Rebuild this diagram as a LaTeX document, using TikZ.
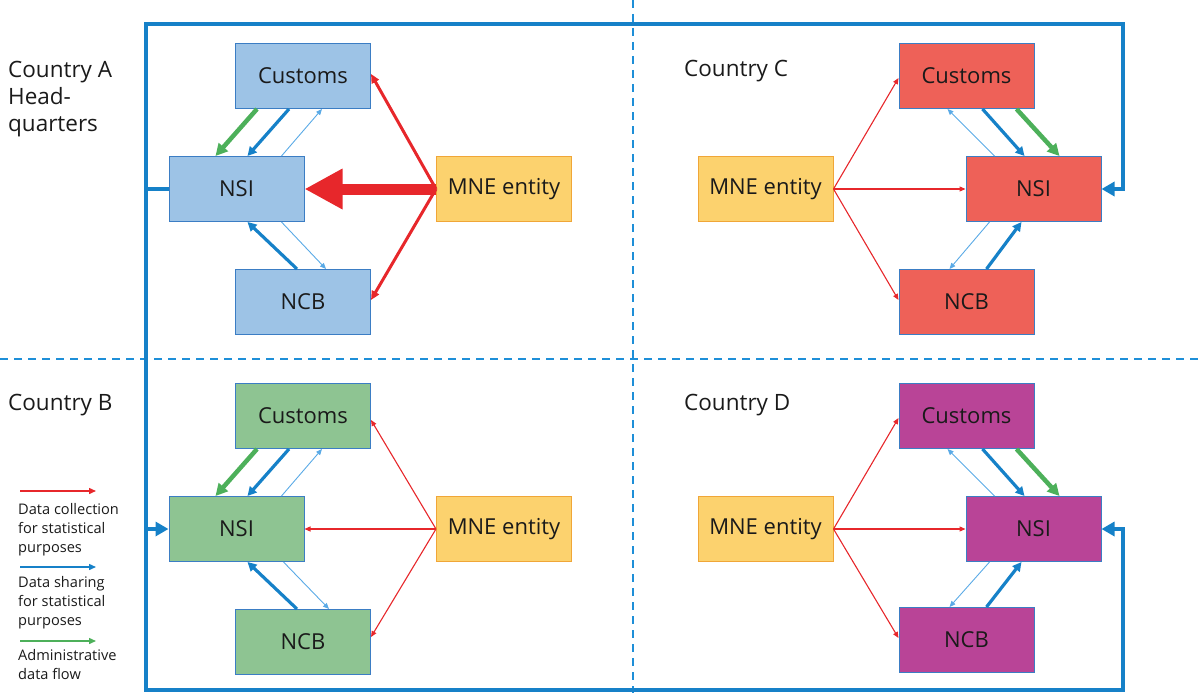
\documentclass[tikz,border=0pt]{standalone}
\usepackage{fontspec}
\setmainfont{Open Sans}
\usetikzlibrary{arrows.meta}

\definecolor{frameblue}{HTML}{1681C8}
\definecolor{dashblue}{HTML}{1E8FD8}
\definecolor{thinblue}{HTML}{5AAAE6}
\definecolor{boxline}{HTML}{3B7DC4}
\definecolor{fillA}{HTML}{9DC3E6}
\definecolor{fillB}{HTML}{8EC492}
\definecolor{fillC}{HTML}{EE6158}
\definecolor{fillD}{HTML}{B94497}
\definecolor{mnefill}{HTML}{FCD26E}
\definecolor{mneline}{HTML}{F0A638}
\definecolor{flowred}{HTML}{E7272B}
\definecolor{flowgreen}{HTML}{4DB05A}
\definecolor{ink}{HTML}{1A1A1A}

\tikzset{
  box/.style={draw=boxline, line width=1pt, minimum width=135pt, minimum height=65pt,
    inner sep=0pt, text=ink, font=\fontsize{22}{26}\selectfont},
  mnebox/.style={box, draw=mneline, fill=mnefill},
  label/.style={anchor=base west, inner sep=0pt, text=ink, align=left,
    font=\fontsize{22.5}{27}\selectfont},
  legendtext/.style={anchor=base west, inner sep=0pt, text=ink, align=left,
    font=\fontsize{14.6}{19}\selectfont},
  frame/.style={draw=frameblue, line width=4pt},
  framehead/.style={-{Triangle[length=13pt,width=14pt]}},
  divider/.style={draw=dashblue, line width=2pt, dash pattern=on 8pt off 6pt},
  share/.style={draw=frameblue, line width=3.2pt, -{Triangle[length=9pt,width=9pt]}},
  sharethin/.style={draw=thinblue, line width=0.9pt, -{Triangle[length=6pt,width=5pt]}, color=thinblue},
  admin/.style={draw=flowgreen, line width=4.5pt, -{Triangle[length=12pt,width=12pt]}},
  collect/.style={draw=flowred, line width=3pt, -{Triangle[length=9pt,width=8pt]}},
  collectthin/.style={draw=flowred, line width=1.1pt, -{Triangle[length=6pt,width=5pt]}},
  collectbig/.style={draw=flowred, line width=11pt, -{Triangle[length=38pt,width=38pt]}},
}

\begin{document}
\begin{tikzpicture}[x=1pt, y=-1pt]
\useasboundingbox (0,0) rectangle (1199,693);

% quadrant dividers
\coordinate (dvt) at (633,0);
\coordinate (dvb) at (633,693);
\coordinate (dhl) at (0,359);
\coordinate (dhr) at (1199,359);
\draw[divider] (dvt) -- (dvb);
\draw[divider] (dhl) -- (dhr);

% country labels (base anchor sits on the last line)
\node[label] (labA) at (8,131) {Country A\\Head-\\quarters};
\node[label] (labB) at (8,410) {Country B};
\node[label] (labC) at (684,77) {Country C};
\node[label] (labD) at (684,410) {Country D};

% Country A
\node[box, fill=fillA] (cusA) at (303,76) {Customs};
\node[box, fill=fillA] (nsiA) at (236.5,189) {NSI};
\node[box, fill=fillA] (ncbA) at (303,302) {NCB};
\node[mnebox] (mneA) at (504,189) {MNE entity};

% Country B
\node[box, fill=fillB] (cusB) at (303,416) {Customs};
\node[box, fill=fillB] (nsiB) at (236.5,529) {NSI};
\node[box, fill=fillB] (ncbB) at (303,642) {NCB};
\node[mnebox] (mneB) at (504,529) {MNE entity};

% Country C
\node[box, fill=fillC] (cusC) at (966.5,76) {Customs};
\node[box, fill=fillC] (nsiC) at (1033.5,189) {NSI};
\node[box, fill=fillC] (ncbC) at (966.5,302) {NCB};
\node[mnebox] (mneC) at (765.5,189) {MNE entity};

% Country D
\node[box, fill=fillD] (cusD) at (966.5,416) {Customs};
\node[box, fill=fillD] (nsiD) at (1033.5,529) {NSI};
\node[box, fill=fillD] (ncbD) at (966.5,640) {NCB};
\node[mnebox] (mneD) at (765.5,529) {MNE entity};

% headquarters frame linking the NSIs
\coordinate (jA) at (146,189);
\coordinate (jB) at (146,529);
\coordinate (cTR) at (1123,24);
\coordinate (cBR) at (1123,690);
\draw[frame, framehead] (nsiA.west) -- (jA) |- (cTR) |- (nsiC.east);
\draw[frame, framehead] (jA) |- (cBR) |- (nsiD.east);
\draw[frame, framehead] (jB) -- (nsiB.west);

% flows inside Country A
\draw[admin] ([xshift=22pt]cusA.south west) -- ([xshift=47pt]nsiA.north west);
\draw[share] ([xshift=54pt]cusA.south west) -- ([xshift=79pt]nsiA.north west);
\draw[sharethin] ([xshift=113pt]nsiA.north west) -- ([xshift=87pt]cusA.south west);
\draw[share] ([xshift=62pt]ncbA.north west) -- ([xshift=79pt]nsiA.south west);
\draw[sharethin] ([xshift=113pt]nsiA.south west) -- ([xshift=91pt]ncbA.north west);
\draw[collect] (mneA.west) -- ([yshift=2pt]cusA.east);
\draw[collect] (mneA.west) -- ([yshift=2pt]ncbA.east);
\draw[collectbig] (mneA.west) -- (nsiA.east);

% flows inside Country B
\draw[admin] ([xshift=22pt]cusB.south west) -- ([xshift=47pt]nsiB.north west);
\draw[share] ([xshift=54pt]cusB.south west) -- ([xshift=79pt]nsiB.north west);
\draw[sharethin] ([xshift=113pt]nsiB.north west) -- ([xshift=87pt]cusB.south west);
\draw[share] ([xshift=62pt]ncbB.north west) -- ([xshift=79pt]nsiB.south west);
\draw[sharethin] ([xshift=115pt]nsiB.south west) -- ([xshift=94pt]ncbB.north west);
\draw[collectthin] (mneB.west) -- ([yshift=-4pt]cusB.east);
\draw[collectthin] (mneB.west) -- (nsiB.east);
\draw[collectthin] (mneB.west) -- ([yshift=5pt]ncbB.east);

% flows inside Country C
\draw[sharethin] ([xshift=29pt]nsiC.north west) -- ([xshift=49pt]cusC.south west);
\draw[share] ([xshift=84pt]cusC.south west) -- ([xshift=59pt]nsiC.north west);
\draw[admin] ([xshift=118pt]cusC.south west) -- ([xshift=94pt]nsiC.north west);
\draw[sharethin] ([xshift=24pt]nsiC.south west) -- ([xshift=51pt]ncbC.north west);
\draw[share] ([xshift=88pt]ncbC.north west) -- ([xshift=56pt]nsiC.south west);
\draw[collectthin] (mneC.east) -- ([yshift=-2pt]cusC.west);
\draw[collectthin] (mneC.east) -- (nsiC.west);
\draw[collectthin] (mneC.east) -- ([yshift=2pt]ncbC.west);

% flows inside Country D
\draw[sharethin] ([xshift=29pt]nsiD.north west) -- ([xshift=49pt]cusD.south west);
\draw[share] ([xshift=84pt]cusD.south west) -- ([xshift=59pt]nsiD.north west);
\draw[admin] ([xshift=118pt]cusD.south west) -- ([xshift=94pt]nsiD.north west);
\draw[sharethin] ([xshift=24pt]nsiD.south west) -- ([xshift=51pt]ncbD.north west);
\draw[share] ([xshift=88pt]ncbD.north west) -- ([xshift=56pt]nsiD.south west);
\draw[collectthin] (mneD.east) -- ([yshift=-2pt]cusD.west);
\draw[collectthin] (mneD.east) -- (nsiD.west);
\draw[collectthin] (mneD.east) -- ([yshift=2pt]ncbD.west);

% legend
\coordinate (lgr1) at (20,491);
\coordinate (lgr2) at (96,491);
\coordinate (lgb1) at (20,567);
\coordinate (lgb2) at (96,567);
\coordinate (lgg1) at (20,641);
\coordinate (lgg2) at (96,641);
\draw[draw=flowred, line width=1.4pt, -{Triangle[length=7pt,width=6pt]}] (lgr1) -- (lgr2);
\draw[draw=frameblue, line width=1.4pt, -{Triangle[length=7pt,width=6pt]}] (lgb1) -- (lgb2);
\draw[draw=flowgreen, line width=1.4pt, -{Triangle[length=7pt,width=6pt]}] (lgg1) -- (lgg2);
\node[legendtext] (lgtr) at (18,552) {Data collection\\for statistical\\purposes};
\node[legendtext] (lgtb) at (18,625) {Data sharing\\for statistical\\purposes};
\node[legendtext] (lgtg) at (18,679) {Administrative\\data flow};
\end{tikzpicture}
\end{document}
